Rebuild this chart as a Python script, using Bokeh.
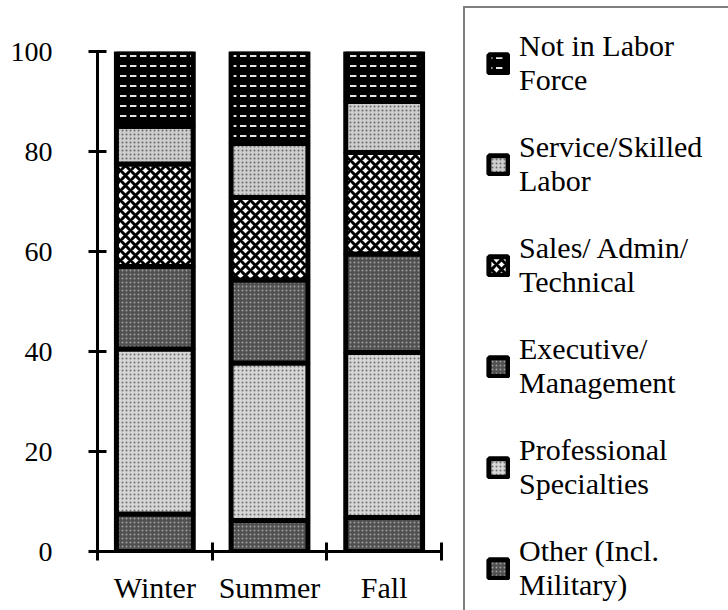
from bokeh.plotting import figure
from bokeh.models import ColumnDataSource, FixedTicker, Range1d, Legend, LegendItem
from bokeh.embed import file_html
from bokeh.resources import INLINE

# ---- data ----
seasons = ["Winter", "Summer", "Fall"]
segments = ["other", "professional", "executive", "sales", "service", "not_in_lf"]
segment_labels = [
    "Other (Incl.\nMilitary)",
    "Professional\nSpecialties",
    "Executive/\nManagement",
    "Sales/ Admin/\nTechnical",
    "Service/Skilled\nLabor",
    "Not in Labor\nForce",
]
other = [7.5, 6.2, 6.8]
professional = [33.0, 31.5, 33.0]
executive = [16.5, 16.6, 19.7]
sales = [20.5, 16.5, 20.3]
service = [7.5, 10.8, 10.2]
not_in_lf = [15.0, 18.4, 10.0]
y_ticks = [0, 20, 40, 60, 80, 100]

# ---- styles ----
fills = ["#505050", "#d6d6d6", "#505050", "#ffffff", "#cdcdcd", "#000000"]
hatches = ["dot", "dot", "dot", "diagonal_cross", "dot", "horizontal_dash"]
hatch_colors = ["#a0a0a0", "#707070", "#a0a0a0", "#000000", "#6a6a6a", "#ffffff"]
hatch_scales = [4, 4, 4, 10, 4, 10]
hatch_weights = [1, 1, 1, 3, 1, 1.8]

FONT = "Liberation Serif"

pos = [i + 0.5 for i in range(len(seasons))]
source = ColumnDataSource(dict(x=pos, other=other, professional=professional,
                               executive=executive, sales=sales, service=service,
                               not_in_lf=not_in_lf))

p = figure(frame_width=344, frame_height=500, output_backend="svg", toolbar_location=None,
           x_range=Range1d(0, len(seasons)), y_range=Range1d(0, 100),
           min_border_left=97, min_border_right=0, min_border_top=51,
           min_border_bottom=59)
p.outline_line_color = None
p.xgrid.visible = False
p.ygrid.visible = False

renderers = p.vbar_stack(segments, x="x", width=0.67, source=source,
                         fill_color=fills, hatch_pattern=hatches,
                         hatch_color=hatch_colors, hatch_scale=hatch_scales,
                         hatch_weight=hatch_weights,
                         line_color="black", line_width=5)

# axes
p.xaxis.ticker = FixedTicker(ticks=pos, minor_ticks=list(range(len(seasons) + 1)))
p.xaxis.major_label_overrides = {x: s for x, s in zip(pos, seasons)}
p.xaxis.major_tick_line_color = None
p.xaxis.minor_tick_in = 9
p.xaxis.minor_tick_out = 9
p.xaxis.minor_tick_line_width = 3
p.xaxis.minor_tick_line_color = "black"
p.xaxis.axis_line_width = 3
p.xaxis.major_label_text_font = FONT
p.xaxis.major_label_text_font_size = "30px"
p.xaxis.major_label_text_color = "black"
p.xaxis.major_label_standoff = 10

p.yaxis.ticker = FixedTicker(ticks=y_ticks, minor_ticks=[])
p.yaxis.major_tick_in = 9
p.yaxis.major_tick_out = 9
p.yaxis.major_tick_line_width = 3
p.yaxis.axis_line_width = 3
p.yaxis.major_label_text_font = FONT
p.yaxis.major_label_text_font_size = "28px"
p.yaxis.major_label_text_color = "black"
p.yaxis.major_label_standoff = 36

items = [LegendItem(label=lab, renderers=[r]) for lab, r in zip(segment_labels, renderers)][::-1]
legend = Legend(items=items, location=(22, -74), orientation="vertical",
                label_text_font=FONT, label_text_font_size="30px",
                label_text_color="black",
                label_text_line_height=1.22,
                label_width=212,
                glyph_width=24, glyph_height=23, label_standoff=9,
                spacing=33, padding=21, margin=0,
                border_line_color="black", border_line_width=2.5,
                background_fill_color="white", background_fill_alpha=1.0)
p.add_layout(legend, "right")

open("out.html", "w").write(file_html(p, INLINE))
